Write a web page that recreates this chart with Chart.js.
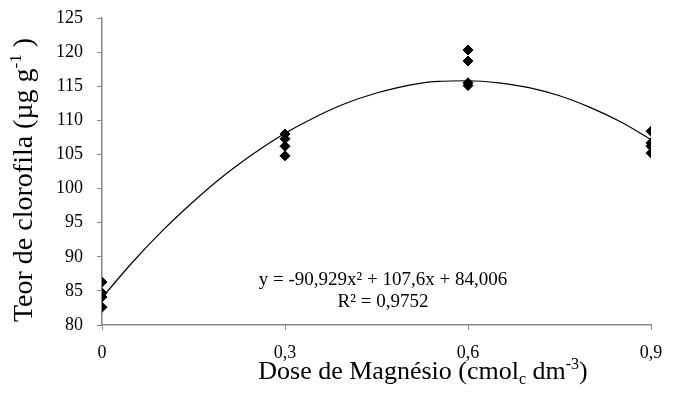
<!DOCTYPE html>
<html>
<head>
<meta charset="utf-8">
<script src="https://cdn.jsdelivr.net/npm/chart.js@4"></script>
<style>
  html, body { margin: 0; padding: 0; background: #fff; }
  #wrap { width: 694px; height: 401px; }
</style>
</head>
<body>
<div id="wrap"><canvas id="chart" width="694" height="401"></canvas></div>
<script>
const doses = [0, 0.3, 0.6, 0.9];
const rep0 = [86.3, 84.7, 84.1, 82.6];
const rep03 = [108.0, 107.3, 106.2, 104.8];
const rep06 = [120.3, 118.7, 115.5, 115.1];
const rep09 = [108.4, 106.7, 106.2, 105.2];

// Trend line
const trendX = [0, 0.05, 0.1, 0.15, 0.2, 0.25, 0.3, 0.35, 0.4, 0.45, 0.5, 0.55, 0.6, 0.65, 0.7, 0.75, 0.8, 0.85, 0.9];
const trendY = [84.0, 89.2, 93.9, 98.1, 101.9, 105.2, 108.1, 110.5, 112.5, 114.0, 115.1, 115.7, 115.8, 115.5, 114.8, 113.6, 111.9, 109.8, 107.2];

const xTicks = [0, 0.3, 0.6, 0.9];
const yTicks = [80, 85, 90, 95, 100, 105, 110, 115, 120, 125];

const equation = 'y = -90,929x² + 107,6x + 84,006';
const rSquared = 'R² = 0,9752';

const FONT = '"Liberation Serif", "Times New Roman", serif';

// Build scatter points from the replicate arrays
const reps = [rep0, rep03, rep06, rep09];
const scatterPoints = [];
reps.forEach((list, i) => {
    list.forEach(v => scatterPoints.push({ x: doses[i], y: v }));
});
const trendPoints = trendX.map((x, i) => ({ x: x, y: trendY[i] }));

// Draws axis titles (with sub/superscripts) and the equation label
const textPlugin = {
    id: 'textPlugin',
    afterDraw(chart) {
        const ctx = chart.ctx;
        ctx.save();
        ctx.fillStyle = '#000';

        // equation
        ctx.font = '19px ' + FONT;
        ctx.textAlign = 'center';
        ctx.textBaseline = 'middle';
        ctx.fillText(equation, 383, 280);
        ctx.fillText(rSquared, 383, 302);

        // x title: Dose de Magnésio (cmol_c dm^-3)
        const parts = [
            { t: 'Dose de Magnésio (cmol', s: 26, dy: 0 },
            { t: 'c', s: 16, dy: 5 },
            { t: ' dm', s: 26, dy: 0 },
            { t: '-3', s: 16, dy: -10 },
            { t: ')', s: 26, dy: 0 }
        ];
        drawParts(ctx, parts, 423, 379);

        // y title: Teor de clorofila (µg g^-1 )
        const yparts = [
            { t: 'Teor de clorofila (µg g', s: 28, dy: 0 },
            { t: '-1', s: 17, dy: -11 },
            { t: ' )', s: 28, dy: 0 }
        ];
        ctx.save();
        ctx.translate(32, 180);
        ctx.rotate(-Math.PI / 2);
        drawParts(ctx, yparts, 0, 0);
        ctx.restore();

        ctx.restore();
    }
};

function drawParts(ctx, parts, cx, baseY) {
    ctx.textAlign = 'left';
    ctx.textBaseline = 'alphabetic';
    let total = 0;
    parts.forEach(p => {
        ctx.font = p.s + 'px ' + FONT;
        p.w = ctx.measureText(p.t).width;
        total += p.w;
    });
    let x = cx - total / 2;
    parts.forEach(p => {
        ctx.font = p.s + 'px ' + FONT;
        ctx.fillText(p.t, x, baseY + p.dy);
        x += p.w;
    });
}

const ctx = document.getElementById('chart').getContext('2d');
new Chart(ctx, {
    type: 'scatter',
    data: {
        datasets: [
            {
                label: 'Teor de clorofila',
                data: scatterPoints,
                pointStyle: 'rectRot',
                pointRadius: 5,
                pointBackgroundColor: '#000',
                pointBorderColor: '#000',
                showLine: false,
                order: 1
            },
            {
                label: 'Tendência',
                data: trendPoints,
                showLine: true,
                borderColor: '#000',
                borderWidth: 1.2,
                pointRadius: 0,
                cubicInterpolationMode: 'monotone',
                fill: false,
                order: 2
            }
        ]
    },
    options: {
        responsive: false,
        animation: false,
        layout: { padding: { top: 18, right: 43, left: 0, bottom: 0 } },
        plugins: {
            legend: { display: false },
            tooltip: { enabled: false }
        },
        scales: {
            x: {
                type: 'linear',
                min: 0,
                max: 0.9,
                afterBuildTicks: axis => { axis.ticks = xTicks.map(v => ({ value: v })); },
                afterFit: scale => { scale.height = 76; scale.paddingLeft = 0; scale.paddingRight = 0; },
                grid: { drawOnChartArea: false, tickLength: 5, color: '#868686' },
                border: { color: '#868686', width: 1.5 },
                ticks: {
                    padding: 12,
                    color: '#000',
                    font: { family: FONT, size: 18 },
                    maxRotation: 0,
                    callback: v => String(v).replace('.', ',')
                }
            },
            y: {
                min: 80,
                max: 125,
                afterBuildTicks: axis => { axis.ticks = yTicks.map(v => ({ value: v })); },
                afterFit: scale => { scale.width = 102; scale.paddingTop = 0; scale.paddingBottom = 0; },
                grid: { drawOnChartArea: false, tickLength: 5, color: '#868686' },
                border: { color: '#868686', width: 1.5 },
                ticks: {
                    padding: 14,
                    color: '#000',
                    font: { family: FONT, size: 18 }
                }
            }
        }
    },
    plugins: [textPlugin]
});
</script>
</body>
</html>
